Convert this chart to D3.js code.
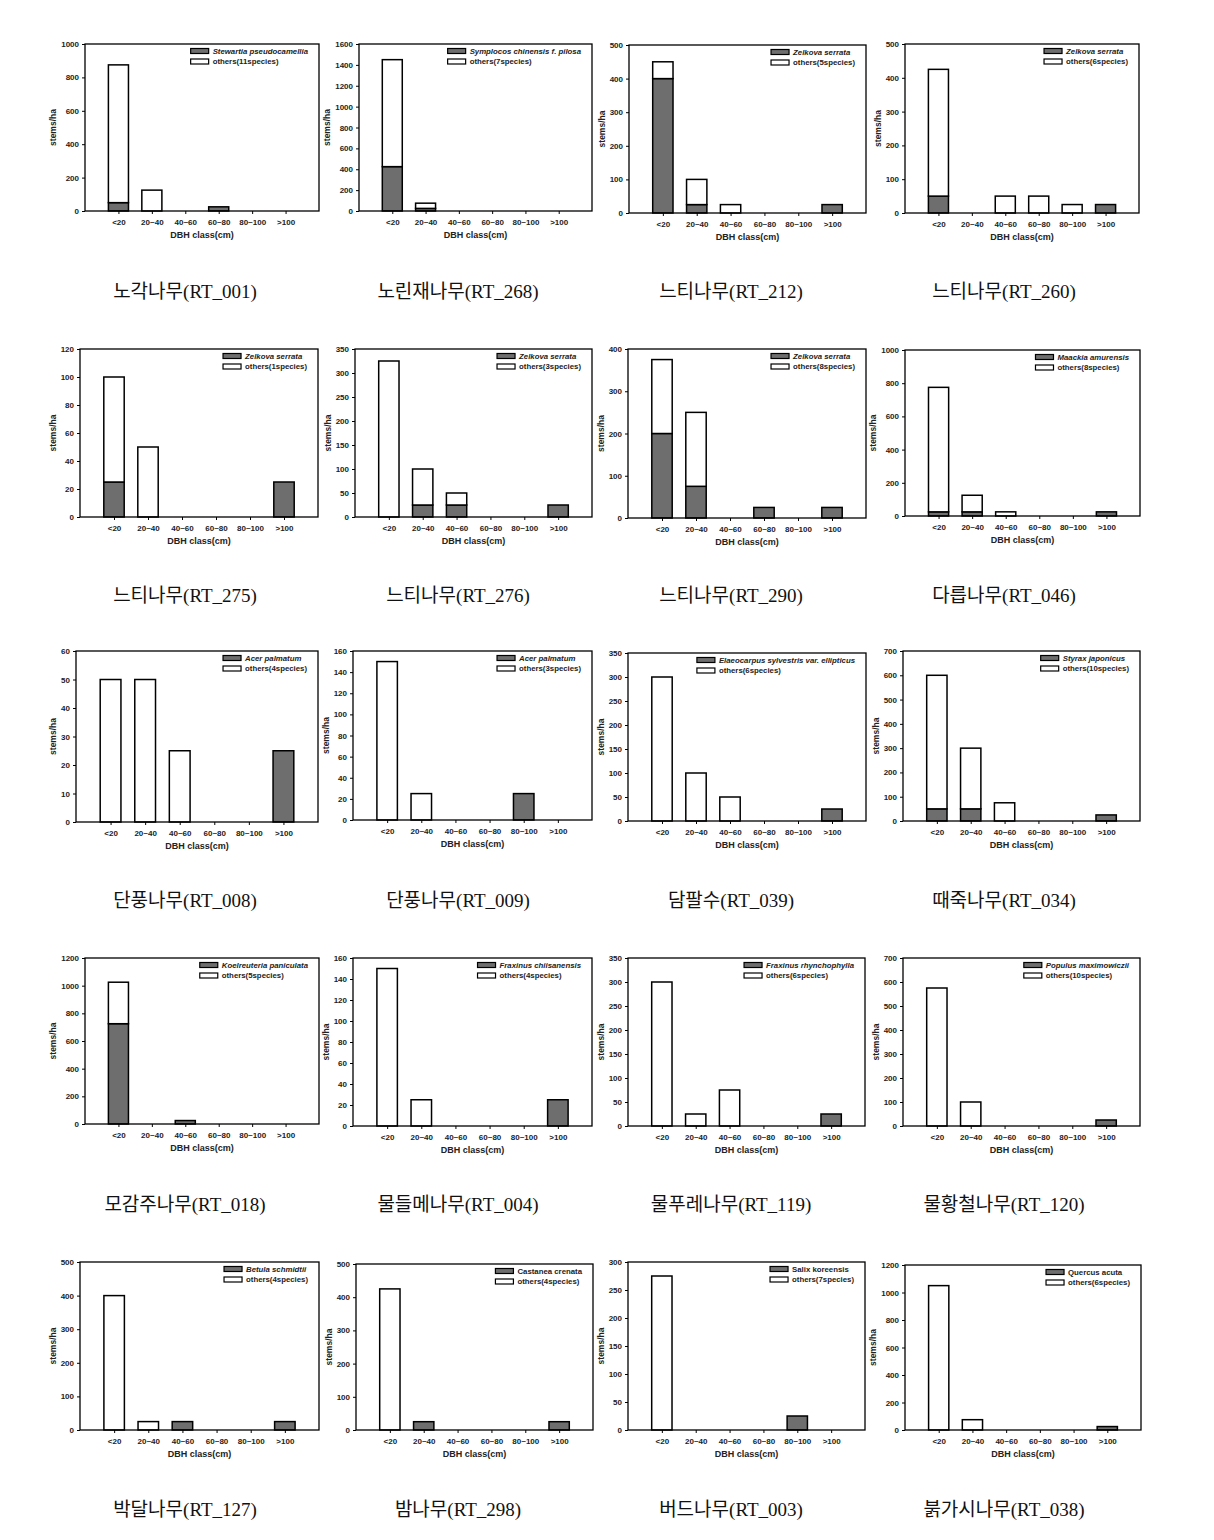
<!DOCTYPE html>
<html><head><meta charset="utf-8">
<script src="https://cdn.jsdelivr.net/npm/d3@7"></script>
<style>body{margin:0;background:#fff;} svg{display:block;}</style>
</head><body><svg id="c" width="1214" height="1540"></svg>
<script>
// ---------------- data ----------------
const categories = ["<20", "20~40", "40~60", "60~80", "80~100", ">100"];
const titles = [
  "노각나무(RT_001)", "노린재나무(RT_268)", "느티나무(RT_212)", "느티나무(RT_260)",
  "느티나무(RT_275)", "느티나무(RT_276)", "느티나무(RT_290)", "다릅나무(RT_046)",
  "단풍나무(RT_008)", "단풍나무(RT_009)", "담팔수(RT_039)", "때죽나무(RT_034)",
  "모감주나무(RT_018)", "물들메나무(RT_004)", "물푸레나무(RT_119)", "물황철나무(RT_120)",
  "박달나무(RT_127)", "밤나무(RT_298)", "버드나무(RT_003)", "붉가시나무(RT_038)"
];
const speciesNames = [
  "Stewartia pseudocamellia", "Symplocos chinensis f. pilosa", "Zelkova serrata", "Zelkova serrata",
  "Zelkova serrata", "Zelkova serrata", "Zelkova serrata", "Maackia amurensis",
  "Acer palmatum", "Acer palmatum", "Elaeocarpus sylvestris var. ellipticus", "Styrax japonicus",
  "Koelreuteria paniculata", "Fraxinus chiisanensis", "Fraxinus rhynchophylla", "Populus maximowiczii",
  "Betula schmidtii", "Castanea crenata", "Salix koreensis", "Quercus acuta"
];
const speciesItalic = [1,1,1,1, 1,1,1,1, 1,1,1,1, 1,1,1,1, 1,0,0,0];
const othersNames = [
  "others(11species)", "others(7species)", "others(5species)", "others(6species)",
  "others(1species)", "others(3species)", "others(8species)", "others(8species)",
  "others(4species)", "others(3species)", "others(6species)", "others(10species)",
  "others(5species)", "others(4species)", "others(6species)", "others(10species)",
  "others(4species)", "others(4species)", "others(7species)", "others(6species)"
];
// stems/ha of the named species per DBH class
const speciesValues = [
  [50, 0, 0, 25, 0, 0],
  [425, 25, 0, 0, 0, 0],
  [400, 25, 0, 0, 0, 25],
  [50, 0, 0, 0, 0, 25],
  [25, 0, 0, 0, 0, 25],
  [0, 25, 25, 0, 0, 25],
  [200, 75, 0, 25, 0, 25],
  [25, 25, 0, 0, 0, 25],
  [0, 0, 0, 0, 0, 25],
  [0, 0, 0, 0, 25, 0],
  [0, 0, 0, 0, 0, 25],
  [50, 50, 0, 0, 0, 25],
  [725, 0, 25, 0, 0, 0],
  [0, 0, 0, 0, 0, 25],
  [0, 0, 0, 0, 0, 25],
  [0, 0, 0, 0, 0, 25],
  [0, 0, 25, 0, 0, 25],
  [0, 25, 0, 0, 0, 25],
  [0, 0, 0, 0, 25, 0],
  [0, 0, 0, 0, 0, 25]
];
// stems/ha of all other species per DBH class
const othersValues = [
  [825, 125, 0, 0, 0, 0],
  [1025, 50, 0, 0, 0, 0],
  [50, 75, 25, 0, 0, 0],
  [375, 0, 50, 50, 25, 0],
  [75, 50, 0, 0, 0, 0],
  [325, 75, 25, 0, 0, 0],
  [175, 175, 0, 0, 0, 0],
  [750, 100, 25, 0, 0, 0],
  [50, 50, 25, 0, 0, 0],
  [150, 25, 0, 0, 0, 0],
  [300, 100, 50, 0, 0, 0],
  [550, 250, 75, 0, 0, 0],
  [300, 0, 0, 0, 0, 0],
  [150, 25, 0, 0, 0, 0],
  [300, 25, 75, 0, 0, 0],
  [575, 100, 0, 0, 0, 0],
  [400, 25, 0, 0, 0, 0],
  [425, 0, 0, 0, 0, 0],
  [275, 0, 0, 0, 0, 0],
  [1050, 75, 0, 0, 0, 0]
];
const yMaxes = [1000, 1600, 500, 500, 120, 350, 400, 1000, 60, 160, 350, 700, 1200, 160, 350, 700, 500, 500, 300, 1200];
const yTickSteps = [200, 200, 100, 100, 20, 50, 100, 200, 10, 20, 50, 100, 200, 20, 50, 100, 100, 100, 50, 200];

// ---------------- layout ----------------
const frameLeft   = [85,359,629,905, 80,355,628,905, 76,353,628,903, 85,353,628,903, 80,356,628,905];
const frameRight  = [319,592,866,1139, 318,592,866,1140, 318,592,866,1140, 319,592,865,1140, 319,593,865,1141];
const frameTop    = [44,44,45,44, 349,349,349,350, 651,651,653,651, 958,958,958,958, 1262,1264,1262,1265];
const frameBottom = [211,211,213,213, 517,517,518,516, 822,820,821,821, 1124,1126,1126,1126, 1430,1430,1430,1430];
const titleX = [185, 458, 731, 1004];
const titleY = [292, 596, 901, 1205, 1510];

const FONT = "'Liberation Sans', Arial, sans-serif";
const DARK = "#6e6e6e";
const svg = d3.select("#c");

titles.forEach((t, p) => {
  const L = frameLeft[p], R = frameRight[p], T = frameTop[p], B = frameBottom[p];
  const g = svg.append("g");
  const x = d3.scaleLinear().domain([0, categories.length + 1]).range([L, R]);
  const y = d3.scaleLinear().domain([0, yMaxes[p]]).range([B, T]);
  const bw = (x(1) - x(0)) * 0.6;

  // bars: named species (bottom) + others (stacked)
  const sp = speciesValues[p], ot = othersValues[p];
  categories.forEach((c, i) => {
    const cx = x(i + 1);
    if (sp[i] > 0) {
      g.append("rect").attr("x", cx - bw / 2).attr("y", y(sp[i]))
        .attr("width", bw).attr("height", y(0) - y(sp[i]))
        .attr("fill", DARK).attr("stroke", "#000").attr("stroke-width", 1.5);
    }
    if (ot[i] > 0) {
      g.append("rect").attr("x", cx - bw / 2).attr("y", y(sp[i] + ot[i]))
        .attr("width", bw).attr("height", y(sp[i]) - y(sp[i] + ot[i]))
        .attr("fill", "#fff").attr("stroke", "#000").attr("stroke-width", 1.5);
    }
  });

  // frame
  g.append("rect").attr("x", L).attr("y", T).attr("width", R - L).attr("height", B - T)
    .attr("fill", "none").attr("stroke", "#000").attr("stroke-width", 1.3);

  // y axis
  const yTicks = d3.range(0, yMaxes[p] + 0.001, yTickSteps[p]);
  const ya = g.append("g").attr("transform", `translate(${L},0)`)
    .call(d3.axisLeft(y).tickValues(yTicks).tickSize(3).tickPadding(3).tickFormat(d3.format("d")));
  ya.select(".domain").remove();
  ya.selectAll("text").attr("font-family", FONT).attr("font-size", 8).attr("font-weight", "bold").attr("fill", "#222");
  let maxW = 0;
  ya.selectAll("text").each(function () { maxW = Math.max(maxW, this.getComputedTextLength()); });

  // x axis
  const xa = g.append("g").attr("transform", `translate(0,${B})`)
    .call(d3.axisBottom(x).tickValues(d3.range(1, categories.length + 1)).tickSize(3).tickPadding(5)
      .tickFormat((d) => categories[d - 1]));
  xa.select(".domain").remove();
  xa.selectAll("text").attr("font-family", FONT).attr("font-size", 8).attr("font-weight", "bold").attr("fill", "#222");

  // axis titles
  g.append("text").attr("x", (L + R) / 2).attr("y", B + 27).attr("text-anchor", "middle")
    .attr("font-family", FONT).attr("font-size", 9).attr("font-weight", "bold").attr("fill", "#222")
    .text("DBH class(cm)");
  const ylx = L - 6 - maxW - 5;
  g.append("text").attr("transform", `translate(${ylx},${(T + B) / 2}) rotate(-90)`)
    .attr("text-anchor", "middle").attr("font-family", FONT).attr("font-size", 8.5)
    .attr("font-weight", "bold").attr("fill", "#222").text("stems/ha");

  // legend
  const lg = g.append("g");
  const t1 = lg.append("text").attr("font-family", FONT).attr("font-size", 7.8).attr("font-weight", "bold")
    .attr("font-style", speciesItalic[p] ? "italic" : "normal").attr("fill", "#222").text(speciesNames[p]);
  const t2 = lg.append("text").attr("font-family", FONT).attr("font-size", 7.8).attr("font-weight", "bold")
    .attr("fill", "#222").text(othersNames[p]);
  const tw = Math.max(t1.node().getComputedTextLength(), t2.node().getComputedTextLength());
  const textX = R - 11 - tw;
  const swW = 18, swH = 5;
  const sx = textX - 4 - swW;
  t1.attr("x", textX).attr("y", T + 9.5);
  t2.attr("x", textX).attr("y", T + 20);
  lg.append("rect").attr("x", sx).attr("y", T + 4.5).attr("width", swW).attr("height", swH)
    .attr("fill", DARK).attr("stroke", "#000").attr("stroke-width", 1.2);
  lg.append("rect").attr("x", sx).attr("y", T + 15).attr("width", swW).attr("height", swH)
    .attr("fill", "#fff").attr("stroke", "#000").attr("stroke-width", 1.2);

  // panel caption
  svg.append("text").attr("x", titleX[p % 4]).attr("y", titleY[Math.floor(p / 4)] + 6)
    .attr("text-anchor", "middle").attr("font-family", "'Liberation Serif', 'Noto Sans CJK KR', serif")
    .attr("font-size", 19).attr("fill", "#111").text(t);
});
</script>
</body></html>
